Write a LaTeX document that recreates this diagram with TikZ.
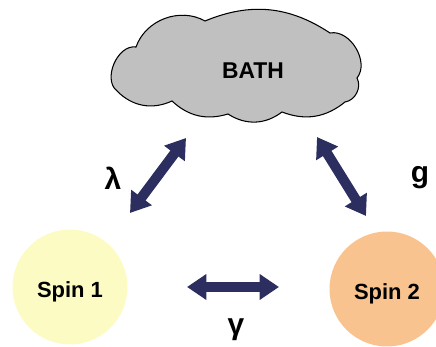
\documentclass[tikz,border=0pt]{standalone}
\usepackage{fontspec}
\setmainfont{Liberation Sans}
\usepackage{tikz}
\usetikzlibrary{arrows.meta}
\definecolor{arrowblue}{HTML}{2B2E5F}
\definecolor{spinyellow}{HTML}{FDFBC4}
\definecolor{spinorange}{HTML}{F8C38E}
\definecolor{bathgray}{HTML}{C0C0C0}
\def\Spin at (#1, #2) named #3 fill #4 text #5; {
    \node[circle, fill=#4, minimum size=2.3cm, inner sep=0pt] (#3) at (#1, #2) {};
    \node[font=\bfseries\fontsize{12.5}{14}\selectfont] (#3text) at ([yshift=-0.1cm]#3.center) {#5};
}

\begin{document}
\begin{tikzpicture}[x=0.02cm, y=-0.02cm,
    coupling/.style={arrowblue, line width=5.7pt,
        {Triangle[length=11pt,width=14pt]}-{Triangle[length=11pt,width=14pt]}},
    coupname/.style={font=\bfseries\fontsize{17}{19}\selectfont}]
    \useasboundingbox (0,0) rectangle (436,347);
    % the bath cloud
    \draw[fill=bathgray, line width=0.6pt] (136,47) to[bend left=50] (205,21)
        to[bend left=28] (330,33) to[bend left=70] (357,78)
        to[bend left=55] (345,102) to[bend left=30] (282,112)
        to[bend left=35] (228,114) to[bend left=30] (172,101)
        to[bend left=35] (117,91) to[bend left=75] (136,47) -- cycle;
    \node[font=\bfseries\fontsize{13}{15}\selectfont] (bath) at (253,71) {BATH};
    \Spin at (70, 287) named spinA fill spinyellow text {Spin 1};
    \Spin at (387, 289) named spinB fill spinorange text {Spin 2};
    % couplings
    \coordinate (lamA) at (130,213);
    \coordinate (lamB) at (186,138);
    \coordinate (gA) at (317,137);
    \coordinate (gB) at (366,216);
    \coordinate (gamA) at (187,287);
    \coordinate (gamB) at (279,287);
    \draw[coupling] (lamA) -- (lamB);
    \draw[coupling] (gA) -- (gB);
    \draw[coupling] (gamA) -- (gamB);
    \node[coupname] (lam) at (113,178) {λ};
    \node[coupname] (g) at (420,178) {g};
    \node[coupname] (gam) at (236,330) {γ};
\end{tikzpicture}
\end{document}
